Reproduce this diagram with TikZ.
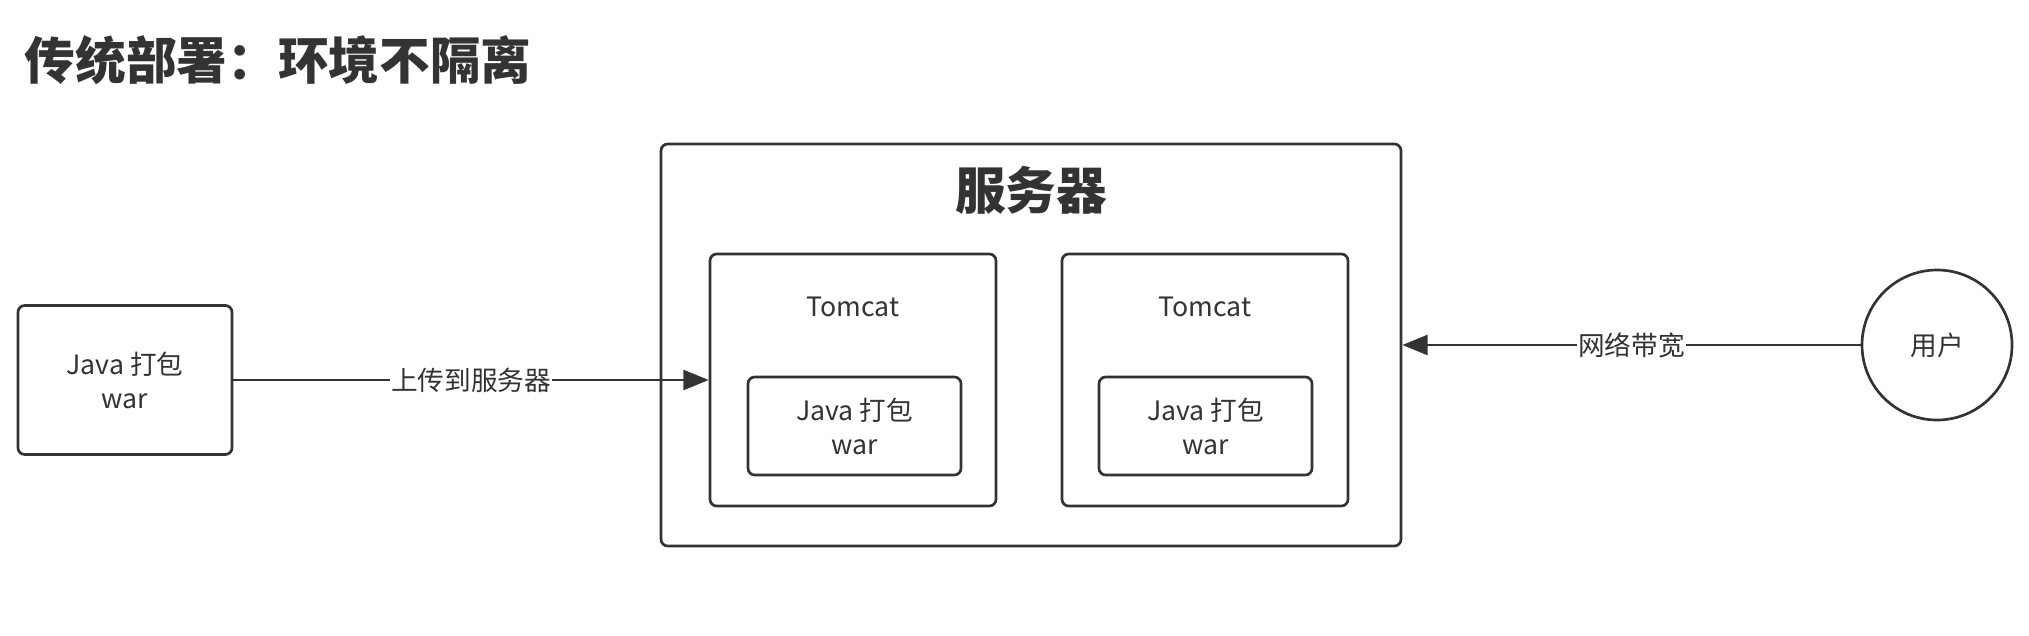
\documentclass[tikz,border=0pt]{standalone}
\usepackage{fontspec}
\setmainfont{Noto Sans CJK SC}
\usetikzlibrary{arrows.meta}
\definecolor{ink}{HTML}{333333}
\begin{document}
\begin{tikzpicture}[x=0.75pt, y=-0.75pt,
  box/.style={draw=ink, line width=2pt, rounded corners=5pt, align=center, text=ink},
  txt/.style={text=ink, align=center, font=\fontsize{20}{25.5}\selectfont},
  flow/.style={draw=ink, line width=2pt, -{Triangle[length=19pt, width=15pt]}},
  tag/.style={txt, fill=white, inner sep=1pt}]
\useasboundingbox (0,0) rectangle (2029,635);
\node[txt, anchor=west, font=\fontsize{38}{44}\selectfont\bfseries] (title) at (20,60) {传统部署：环境不隔离};
\node[box, txt, minimum width=160.5pt, minimum height=111.75pt] (pkg) at (125,380) {Java 打包\\war};
\node[box, minimum width=555pt, minimum height=301.5pt] (srv) at (1031,345) {};
\node[txt, font=\fontsize{38}{44}\selectfont\bfseries] (srvt) at (1031,190) {服务器};
\node[box, minimum width=214.5pt, minimum height=189pt] (tc1) at (853,380) {};
\node[txt] (tc1t) at (853,307) {Tomcat};
\node[box, txt, minimum width=159.75pt, minimum height=73.5pt] (war1) at (854.5,426) {Java 打包\\war};
\node[box, minimum width=214.5pt, minimum height=189pt] (tc2) at (1205,380) {};
\node[txt] (tc2t) at (1205,307) {Tomcat};
\node[box, txt, minimum width=159.75pt, minimum height=73.5pt] (war2) at (1205.5,426) {Java 打包\\war};
\node[draw=ink, line width=2pt, circle, minimum size=112.5pt, txt] (user) at (1937,345) {用户};
\draw[flow] (pkg) -- node[tag] {上传到服务器} (tc1);
\draw[flow] (user) -- node[tag] {网络带宽} (srv);
\end{tikzpicture}
\end{document}
